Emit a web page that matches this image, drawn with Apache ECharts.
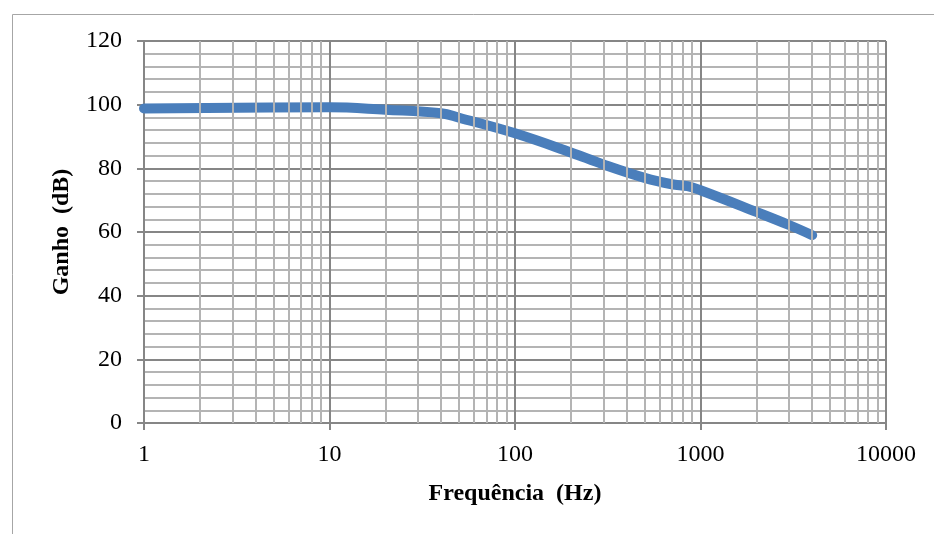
<!DOCTYPE html>
<html>
<head>
<meta charset="utf-8">
<title>Ganho x Frequência</title>
<script src="https://cdn.jsdelivr.net/npm/echarts@6/dist/echarts.min.js"></script>
<style>
  html, body { margin: 0; padding: 0; background: #fff; }
  #chart { width: 934px; height: 534px; }
</style>
</head>
<body>
<div id="chart"></div>
<script>
// dados
const freqs = [1, 10, 20, 40, 50, 100, 200, 300, 500, 700, 850, 1000, 2000, 3000, 4000];
const gains = [98.8, 99.2, 98.4, 97.3, 95.9, 91.0, 85.0, 81.2, 77.0, 75.0, 74.4, 73.1, 66.3, 62.2, 59.0];

// eixos
const xTicks = [1, 10, 100, 1000, 10000];
const yTicks = [0, 20, 40, 60, 80, 100, 120];
const decades = [1, 10, 100, 1000];
const minorSteps = [2, 3, 4, 5, 6, 7, 8, 9];

const majorColor = '#868686';
const minorColor = '#b4b4b4';
const font = '"Liberation Serif", "Times New Roman", serif';

// linhas de grade secundárias do eixo log (2..9 em cada década)
const minorX = [];
decades.forEach(d => minorSteps.forEach(m => minorX.push(d * m)));

const chart = echarts.init(document.getElementById('chart'));

const option = {
  animation: false,
  backgroundColor: '#fff',
  textStyle: { fontFamily: font },
  graphic: [{
    type: 'rect',
    left: 10, top: 12,
    shape: { width: 940, height: 540 },
    style: { fill: 'none', stroke: '#a6a6a6', lineWidth: 1 },
    silent: true
  }],
  grid: { left: 144, top: 41, right: 48, bottom: 111, containLabel: false, outerBoundsMode: 'none' },
  xAxis: {
    type: 'log',
    logBase: 10,
    min: xTicks[0],
    max: xTicks[xTicks.length - 1],
    name: 'Frequência  (Hz)',
    nameLocation: 'middle',
    nameGap: 59,
    nameTextStyle: { fontFamily: font, fontWeight: 'bold', fontSize: 24, color: '#000' },
    axisLine: { show: true, lineStyle: { color: majorColor, width: 2 } },
    axisTick: { show: true, length: 7, lineStyle: { color: majorColor, width: 2 } },
    axisLabel: {
      margin: 20,
      fontFamily: font, fontSize: 24, color: '#000',
      formatter: v => String(Math.round(v))
    },
    splitLine: { show: true, lineStyle: { color: majorColor, width: 2 } }
  },
  yAxis: {
    type: 'value',
    min: yTicks[0],
    max: yTicks[yTicks.length - 1],
    interval: 20,
    name: 'Ganho  (dB)',
    nameLocation: 'middle',
    nameGap: 70,
    nameTextStyle: { fontFamily: font, fontWeight: 'bold', fontSize: 24, color: '#000' },
    axisLine: { show: true, lineStyle: { color: majorColor, width: 2 } },
    axisTick: { show: true, length: 7, lineStyle: { color: majorColor, width: 2 } },
    axisLabel: { margin: 22, fontFamily: font, fontSize: 24, color: '#000' },
    splitLine: { show: true, lineStyle: { color: majorColor, width: 2 } },
    minorTick: { show: false, splitNumber: 5 },
    minorSplitLine: { show: true, lineStyle: { color: minorColor, width: 2 } }
  },
  series: [
    {
      // só para desenhar a grade secundária do eixo x
      name: 'grade',
      type: 'line',
      data: freqs.map((f, i) => [f, gains[i]]),
      showSymbol: false,
      lineStyle: { opacity: 0 },
      silent: true,
      z: 1,
      markLine: {
        silent: true,
        symbol: ['none', 'none'],
        label: { show: false },
        lineStyle: { color: minorColor, width: 2, type: 'solid' },
        emphasis: { disabled: true },
        data: minorX.map(f => ({ xAxis: f }))
      }
    },
    {
      name: 'Ganho',
      type: 'line',
      data: freqs.map((f, i) => [f, gains[i]]),
      showSymbol: false,
      smooth: 0.4,
      z: 3,
      lineStyle: { color: '#4a7ebb', width: 10, cap: 'round', join: 'round' }
    }
  ]
};

chart.setOption(option);
</script>
</body>
</html>
